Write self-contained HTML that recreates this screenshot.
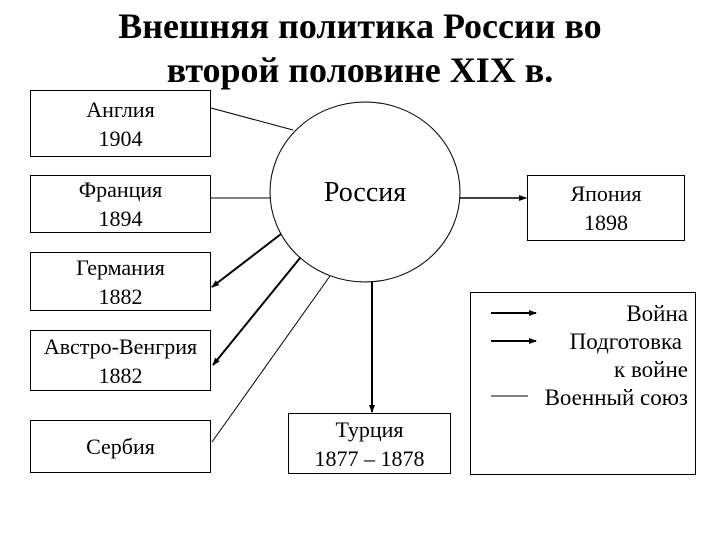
<html><head><style>
body{margin:0;width:720px;height:540px;background:#fff;overflow:hidden;font-family:"Liberation Serif",serif;}
.t{position:absolute;left:0;width:720px;text-align:center;font-weight:bold;font-size:36px;line-height:44px;}
.b{position:absolute;border:1.5px solid #000;box-sizing:border-box;display:flex;align-items:center;justify-content:center;text-align:center;font-size:22px;line-height:29px;}
.l{position:absolute;right:32px;font-size:23px;line-height:28px;text-align:right;}
</style></head><body>
<div class="t" style="top:4px">Внешняя политика России во</div>
<div class="t" style="top:48px">второй половине XIX в.</div>
<div class="b" style="left:30px;top:90px;width:181px;height:67px">Англия<br>1904</div>
<div class="b" style="left:30px;top:175px;width:181px;height:58px">Франция<br>1894</div>
<div class="b" style="left:30px;top:252px;width:181px;height:59px">Германия<br>1882</div>
<div class="b" style="left:30px;top:330px;width:181px;height:61px">Австро-Венгрия<br>1882</div>
<div class="b" style="left:30px;top:420px;width:181px;height:53px">Сербия</div>
<div class="b" style="left:527px;top:175px;width:158px;height:66px">Япония<br>1898</div>
<div class="b" style="left:288px;top:413px;width:163px;height:61px">Турция<br>1877 – 1878</div>
<div class="b" style="left:470px;top:292px;width:226px;height:183px"></div>
<svg width="720" height="540" style="position:absolute;left:0;top:0">
<defs><marker id="a" markerWidth="8" markerHeight="6" refX="7" refY="3" orient="auto" markerUnits="userSpaceOnUse"><path d="M0,0L8,3L0,6z"/></marker></defs>
<ellipse cx="365" cy="192" rx="95" ry="90" fill="#fff" stroke="#000" stroke-width="1"/>
<text x="365" y="201" font-size="28" text-anchor="middle" font-family="Liberation Serif">Россия</text>
<g stroke="#000" fill="none">
<line x1="211" y1="108" x2="293" y2="130" stroke-width="1"/>
<line x1="211" y1="198" x2="270" y2="198" stroke-width="1"/>
<line x1="330" y1="276" x2="212" y2="442" stroke-width="1"/>
<line x1="281" y1="234" x2="212" y2="287" stroke-width="2" marker-end="url(#a)"/>
<line x1="300" y1="258" x2="213" y2="365" stroke-width="2" marker-end="url(#a)"/>
<line x1="372" y1="282" x2="372" y2="412" stroke-width="2" marker-end="url(#a)"/>
<line x1="460" y1="198" x2="526" y2="198" stroke-width="1.5" marker-end="url(#a)"/>
<line x1="491" y1="313" x2="536" y2="313" stroke-width="2" marker-end="url(#a)"/>
<line x1="491" y1="341" x2="536" y2="341" stroke-width="2" marker-end="url(#a)"/>
<line x1="491" y1="396" x2="528" y2="396" stroke-width="1"/>
</g></svg>
<div class="l" style="top:300px">Война</div>
<div class="l" style="top:328px;right:38px">Подготовка</div>
<div class="l" style="top:356px">к войне</div>
<div class="l" style="top:384px">Военный союз</div>
</body></html>
